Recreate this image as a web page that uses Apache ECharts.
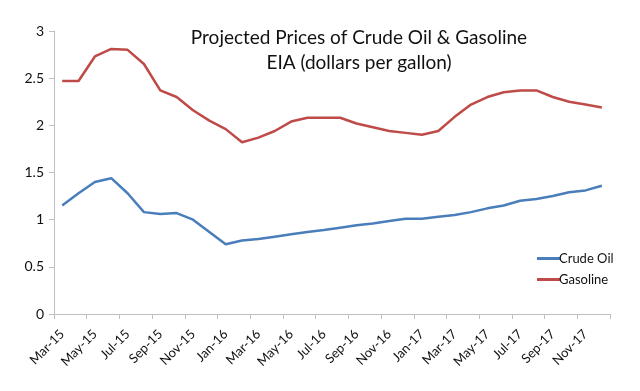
<!DOCTYPE html>
<html><head><meta charset="utf-8">
<script src="https://cdn.jsdelivr.net/npm/echarts@6/dist/echarts.min.js"></script>
<style>html,body{margin:0;padding:0;background:#fff}#c{width:640px;height:391px}</style>
</head><body><div id="c"></div>
<script>
const months = ["Mar-15","Apr-15","May-15","Jun-15","Jul-15","Aug-15","Sep-15","Oct-15","Nov-15","Dec-15",
"Jan-16","Feb-16","Mar-16","Apr-16","May-16","Jun-16","Jul-16","Aug-16","Sep-16","Oct-16","Nov-16","Dec-16",
"Jan-17","Feb-17","Mar-17","Apr-17","May-17","Jun-17","Jul-17","Aug-17","Sep-17","Oct-17","Nov-17","Dec-17"];
const crudeOil = [1.15,1.28,1.40,1.44,1.28,1.08,1.06,1.07,1.00,0.87,
0.74,0.78,0.795,0.82,0.845,0.87,0.89,0.915,0.94,0.96,0.985,1.01,
1.01,1.03,1.05,1.08,1.12,1.15,1.20,1.22,1.25,1.29,1.31,1.36];
const gasoline = [2.47,2.47,2.73,2.81,2.80,2.65,2.37,2.30,2.16,2.05,
1.96,1.82,1.87,1.94,2.04,2.08,2.08,2.08,2.02,1.98,1.94,1.92,
1.90,1.94,2.09,2.22,2.30,2.35,2.37,2.37,2.30,2.25,2.22,2.19];
const yTicks = [0,0.5,1,1.5,2,2.5,3];

const font = "Lato, 'Open Sans', sans-serif";
const chart = echarts.init(document.getElementById('c'));
chart.setOption({
  animation:false,
  title:{
    text:"Projected Prices of Crude Oil & Gasoline\nEIA (dollars per gallon)",
    left:354, top:20, textAlign:'center',
    textStyle:{fontFamily:font, fontSize:19, fontWeight:'normal', color:'#111', lineHeight:25}
  },
  legend:{
    orient:'vertical', left:532, top:247, itemWidth:23, itemHeight:3, itemGap:8,
    icon:'rect',
    textStyle:{fontFamily:font, fontSize:13, color:'#111', padding:[0,0,0,-6]},
    data:['Crude Oil','Gasoline']
  },
  grid:{left:54, top:31, right:30, bottom:77, containLabel:false},
  xAxis:{
    type:'category', data:months, boundaryGap:true,
    axisLine:{lineStyle:{color:'#bfbfbf', width:1}},
    axisTick:{show:true, interval:1, length:5, lineStyle:{color:'#bfbfbf'}},
    axisLabel:{interval:1, rotate:45, fontFamily:font, fontSize:13, color:'#111', margin:18}
  },
  yAxis:{
    type:'value', min:0, max:3, interval:0.5,
    axisLine:{show:true, lineStyle:{color:'#bfbfbf'}},
    axisTick:{show:true, length:5, lineStyle:{color:'#bfbfbf'}},
    splitLine:{show:false},
    axisLabel:{fontFamily:font, fontSize:14, color:'#111', margin:10,
      formatter:v=>String(yTicks.includes(v)?v:v)}
  },
  series:[
    {name:'Crude Oil', type:'line', data:crudeOil, showSymbol:false, symbol:'none',
     lineStyle:{color:'#4a7ebb', width:2.5}, itemStyle:{color:'#4a7ebb'}},
    {name:'Gasoline', type:'line', data:gasoline, showSymbol:false, symbol:'none',
     lineStyle:{color:'#be4b48', width:2.5}, itemStyle:{color:'#be4b48'}}
  ]
});
</script></body></html>
